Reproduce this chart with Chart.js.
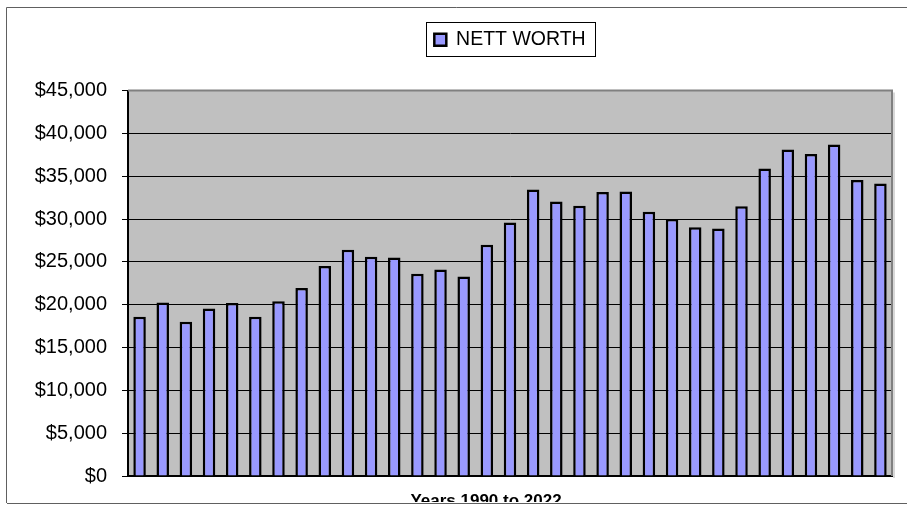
<!DOCTYPE html>
<html>
<head>
<meta charset="utf-8">
<title>Nett Worth 1990 - 2022</title>
<script src="https://cdn.jsdelivr.net/npm/chart.js@4/dist/chart.umd.min.js"></script>
<style>
  html, body { margin: 0; padding: 0; background: #fff; overflow: hidden; }
  #chartWrap { width: 907px; height: 507px; }
</style>
</head>
<body>
<div id="chartWrap"><canvas id="worthChart" width="907" height="507"></canvas></div>
<script>
// --- Chart data ---
const years = [
  '1990', '1991', '1992', '1993', '1994', '1995', '1996', '1997', '1998', '1999',
  '2000', '2001', '2002', '2003', '2004', '2005', '2006', '2007', '2008', '2009',
  '2010', '2011', '2012', '2013', '2014', '2015', '2016', '2017', '2018', '2019',
  '2020', '2021', '2022'
];
const nettWorth = [
  18600, 20250, 18000, 19550, 20200, 18600, 20400, 21950, 24500, 26400,
  25600, 25500, 23600, 24100, 23300, 27000, 29600, 33450, 32050, 31550,
  33150, 33200, 30850, 30000, 29050, 28900, 31500, 35900, 38100, 37600,
  38700, 34550, 34150
];
const seriesName = 'NETT WORTH';
const axisTitle = 'Years 1990 to 2022';
const yMin = 0;
const yMax = 45000;
const yStep = 5000;

const FONT = "Arial, 'Liberation Sans', sans-serif";

// grey plot background + top/right frame like the old Excel chart
const plotBackground = {
  id: 'plotBackground',
  beforeDraw(chart) {
    const { ctx, chartArea: a } = chart;
    ctx.save();
    ctx.fillStyle = '#C0C0C0';
    ctx.fillRect(a.left, a.top, a.right - a.left, a.bottom - a.top);
    ctx.restore();
  },
  afterDatasetsDraw(chart) {
    const { ctx, chartArea: a } = chart;
    ctx.save();
    ctx.strokeStyle = '#808080';
    ctx.lineWidth = 2;
    ctx.beginPath();
    ctx.moveTo(a.left, a.top);
    ctx.lineTo(a.right, a.top);
    ctx.lineTo(a.right, a.bottom);
    ctx.stroke();
    ctx.strokeStyle = '#D8D8D8';
    ctx.lineWidth = 2;
    ctx.beginPath();
    ctx.moveTo(a.right + 2, a.top + 2);
    ctx.lineTo(a.right + 2, a.bottom + 2);
    ctx.stroke();
    ctx.restore();
  }
};

// push the plot area down below the legend
const legendSpacing = {
  id: 'legendSpacing',
  beforeInit(chart) {
    const origFit = chart.legend.fit;
    chart.legend.fit = function fit() {
      origFit.bind(chart.legend)();
      this.height += 31;
    };
  }
};

// legend frame, outer chart border and the (clipped) x axis title
const chartFrame = {
  id: 'chartFrame',
  afterDraw(chart) {
    const { ctx, chartArea: a } = chart;
    const hit = chart.legend.legendHitBoxes[0];
    ctx.save();
    if (hit) {
      const mid = hit.top + hit.height / 2;
      ctx.strokeStyle = '#000';
      ctx.lineWidth = 1;
      ctx.strokeRect(Math.round(hit.left - 8) + 0.5, Math.round(mid - 18) + 0.5,
        Math.round(hit.width + 18), 34);
    }

    ctx.save();
    ctx.beginPath();
    ctx.rect(0, 0, chart.width, 502);
    ctx.clip();
    ctx.fillStyle = '#000';
    ctx.font = 'bold 17px ' + FONT;
    ctx.textAlign = 'center';
    ctx.textBaseline = 'alphabetic';
    ctx.fillText(axisTitle, (a.left + a.right) / 2 - 24, 506);
    ctx.restore();

    ctx.strokeStyle = '#606060';
    ctx.lineWidth = 1;
    ctx.beginPath();
    ctx.moveTo(chart.width, 7.5);
    ctx.lineTo(6.5, 7.5);
    ctx.lineTo(6.5, 503);
    ctx.moveTo(7, 503.5);
    ctx.lineTo(chart.width, 503.5);
    ctx.stroke();
    ctx.restore();
  }
};

const ctx = document.getElementById('worthChart').getContext('2d');
const worthChart = new Chart(ctx, {
  type: 'bar',
  data: {
    labels: years,
    datasets: [{
      label: seriesName,
      data: nettWorth,
      backgroundColor: '#9999FF',
      borderColor: '#000000',
      borderWidth: 2.5,
      barPercentage: 0.54,
      categoryPercentage: 1.0
    }]
  },
  options: {
    responsive: false,
    animation: false,
    devicePixelRatio: 1,
    layout: {
      padding: { left: 0, top: 20, right: 15, bottom: 31 }
    },
    scales: {
      x: {
        grid: { display: false, drawTicks: false },
        border: { display: true, color: '#000', width: 2 },
        ticks: { display: false }
      },
      y: {
        min: yMin,
        max: yMax,
        ticks: {
          stepSize: yStep,
          padding: 15,
          color: '#000',
          font: { family: FONT, size: 20 },
          callback: (v) => '$' + Number(v).toLocaleString('en-US')
        },
        grid: {
          color: '#000',
          lineWidth: 1,
          tickLength: 6,
          tickColor: '#000'
        },
        border: { display: true, color: '#000', width: 2 },
        afterFit(scale) { scale.width = 128; }
      }
    },
    plugins: {
      legend: {
        display: true,
        position: 'top',
        fullSize: false,
        labels: {
          boxWidth: 12,
          boxHeight: 12,
          padding: 10,
          color: '#000',
          font: { family: FONT, size: 19.5 }
        }
      },
      title: { display: false },
      tooltip: { enabled: false }
    }
  },
  plugins: [plotBackground, legendSpacing, chartFrame]
});
</script>
</body>
</html>
